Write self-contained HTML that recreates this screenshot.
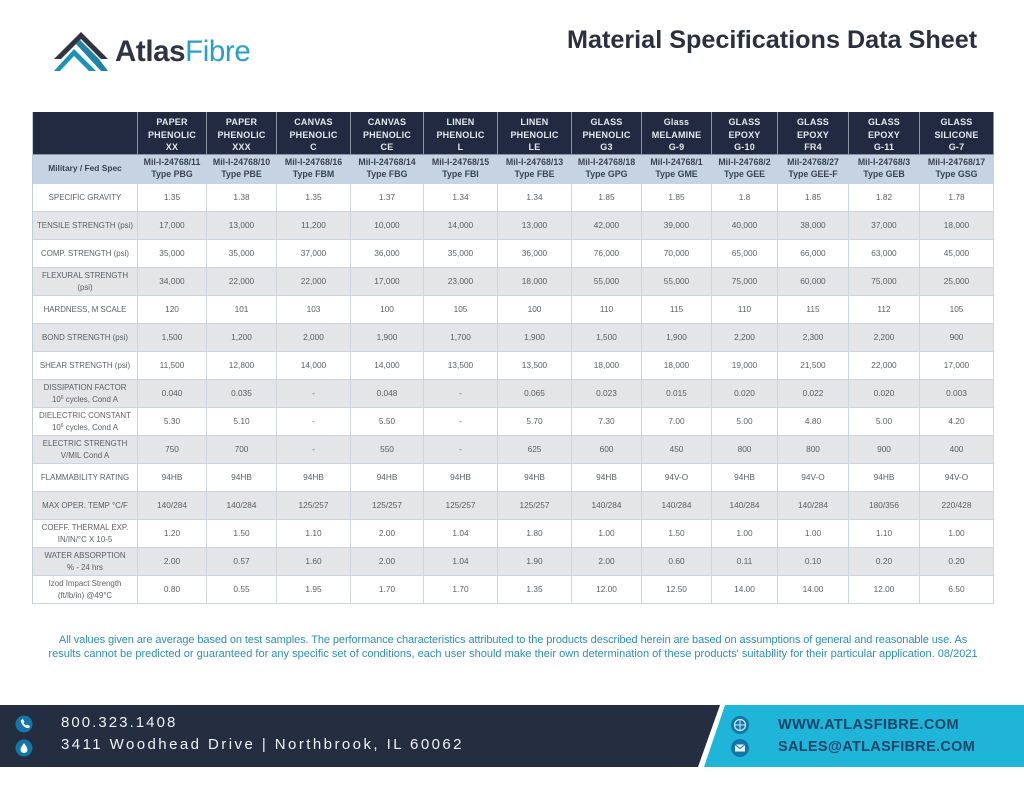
<!DOCTYPE html>
<html lang="en">
<head>
<meta charset="utf-8">
<title>Material Specifications Data Sheet</title>
<style>
html,body{margin:0;padding:0;background:#fff;}
body{width:1024px;height:791px;position:relative;overflow:hidden;font-family:"Liberation Sans",sans-serif;}
.abs{position:absolute;white-space:nowrap;}
table{position:absolute;left:32px;top:112px;width:961px;border-collapse:separate;border-spacing:0;table-layout:fixed;border-left:1px solid #c3cdd9;}
td,th{box-sizing:border-box;padding:0;text-align:center;vertical-align:middle;overflow:hidden;white-space:nowrap;border-right:1.5px solid #ccd5df;border-bottom:1.5px solid #ccd5df;}
tr.head th{height:43px;padding-top:4px;background:#212a40;color:#e4e8ed;font-size:9px;line-height:12.4px;font-weight:bold;letter-spacing:.2px;border-right-color:#8a94a3;border-bottom-color:#8a94a3;}
tr.spec th,tr.spec td{height:29px;background:#c5d3e2;color:#3a4350;font-size:8.8px;line-height:11.6px;font-weight:bold;border-right-color:#c5d3e2;border-bottom-color:#c5d3e2;}
tr.spec th{font-size:8.4px;}
tr.r td,tr.r th{height:28px;background:#fff;color:#5b5f63;font-size:8.3px;line-height:11.1px;font-weight:normal;}
tr.g td,tr.g th{background:#e3e5e6;}
tr.r th{font-size:7.9px;}
sup{font-size:5px;line-height:0;vertical-align:3px;}
</style>
</head>
<body>
<svg class="abs" style="left:53px;top:30px" width="58" height="44" viewBox="0 0 58 44">
<polygon points="28,2 55,29 48,29 28,9 8,29 1,29" fill="#2f3342"/>
<polygon points="23,14 27,10 46,29 55,41 48,41" fill="#1f83a8"/>
<polygon points="21,19 43,41 36,41 21,26 7,41 1,41" fill="#1b93b8"/>
</svg>
<div class="abs" style="left:115px;top:37px;font-size:29.5px;line-height:30px;font-weight:bold;color:#2f3342;letter-spacing:-.4px">Atlas<span style="color:#2a9fc4;font-weight:normal">Fibre</span></div>
<div class="abs" style="left:567px;top:26px;font-size:25.2px;line-height:28px;font-weight:bold;color:#2b3040">Material Specifications Data Sheet</div>

<table>
<colgroup><col style="width:105px"><col style="width:69px"><col style="width:70px"><col style="width:74px"><col style="width:73px"><col style="width:74px"><col style="width:74px"><col style="width:70px"><col style="width:70px"><col style="width:66px"><col style="width:71px"><col style="width:71px"><col style="width:74px"></colgroup>
<tr class="head">
<th></th>
<th>PAPER<br>PHENOLIC<br>XX</th>
<th>PAPER<br>PHENOLIC<br>XXX</th>
<th>CANVAS<br>PHENOLIC<br>C</th>
<th>CANVAS<br>PHENOLIC<br>CE</th>
<th>LINEN<br>PHENOLIC<br>L</th>
<th>LINEN<br>PHENOLIC<br>LE</th>
<th>GLASS<br>PHENOLIC<br>G3</th>
<th>Glass<br>MELAMINE<br>G-9</th>
<th>GLASS<br>EPOXY<br>G-10</th>
<th>GLASS<br>EPOXY<br>FR4</th>
<th>GLASS<br>EPOXY<br>G-11</th>
<th>GLASS<br>SILICONE<br>G-7</th>
</tr>
<tr class="spec">
<th>Military / Fed Spec</th>
<td>Mil-I-24768/11<br>Type PBG</td>
<td>Mil-I-24768/10<br>Type PBE</td>
<td>Mil-I-24768/16<br>Type FBM</td>
<td>Mil-I-24768/14<br>Type FBG</td>
<td>Mil-I-24768/15<br>Type FBI</td>
<td>Mil-I-24768/13<br>Type FBE</td>
<td>Mil-I-24768/18<br>Type GPG</td>
<td>Mil-I-24768/1<br>Type GME</td>
<td>Mil-I-24768/2<br>Type GEE</td>
<td>Mil-24768/27<br>Type GEE-F</td>
<td>Mil-I-24768/3<br>Type GEB</td>
<td>Mil-I-24768/17<br>Type GSG</td>
</tr>
<tr class="r"><th>SPECIFIC GRAVITY</th><td>1.35</td><td>1.38</td><td>1.35</td><td>1.37</td><td>1.34</td><td>1.34</td><td>1.85</td><td>1.85</td><td>1.8</td><td>1.85</td><td>1.82</td><td>1.78</td></tr>
<tr class="r g"><th>TENSILE STRENGTH (psi)</th><td>17,000</td><td>13,000</td><td>11,200</td><td>10,000</td><td>14,000</td><td>13,000</td><td>42,000</td><td>39,000</td><td>40,000</td><td>38,000</td><td>37,000</td><td>18,000</td></tr>
<tr class="r"><th>COMP. STRENGTH (psi)</th><td>35,000</td><td>35,000</td><td>37,000</td><td>36,000</td><td>35,000</td><td>36,000</td><td>76,000</td><td>70,000</td><td>65,000</td><td>66,000</td><td>63,000</td><td>45,000</td></tr>
<tr class="r g"><th>FLEXURAL STRENGTH<br>(psi)</th><td>34,000</td><td>22,000</td><td>22,000</td><td>17,000</td><td>23,000</td><td>18,000</td><td>55,000</td><td>55,000</td><td>75,000</td><td>60,000</td><td>75,000</td><td>25,000</td></tr>
<tr class="r"><th>HARDNESS, M SCALE</th><td>120</td><td>101</td><td>103</td><td>100</td><td>105</td><td>100</td><td>110</td><td>115</td><td>110</td><td>115</td><td>112</td><td>105</td></tr>
<tr class="r g"><th>BOND STRENGTH (psi)</th><td>1,500</td><td>1,200</td><td>2,000</td><td>1,900</td><td>1,700</td><td>1,900</td><td>1,500</td><td>1,900</td><td>2,200</td><td>2,300</td><td>2,200</td><td>900</td></tr>
<tr class="r"><th>SHEAR STRENGTH (psi)</th><td>11,500</td><td>12,800</td><td>14,000</td><td>14,000</td><td>13,500</td><td>13,500</td><td>18,000</td><td>18,000</td><td>19,000</td><td>21,500</td><td>22,000</td><td>17,000</td></tr>
<tr class="r g"><th>DISSIPATION FACTOR<br>10<sup>6</sup> cycles, Cond A</th><td>0.040</td><td>0.035</td><td>-</td><td>0.048</td><td>-</td><td>0.065</td><td>0.023</td><td>0.015</td><td>0.020</td><td>0.022</td><td>0.020</td><td>0.003</td></tr>
<tr class="r"><th>DIELECTRIC CONSTANT<br>10<sup>6</sup> cycles, Cond A</th><td>5.30</td><td>5.10</td><td>-</td><td>5.50</td><td>-</td><td>5.70</td><td>7.30</td><td>7.00</td><td>5.00</td><td>4.80</td><td>5.00</td><td>4.20</td></tr>
<tr class="r g"><th>ELECTRIC STRENGTH<br>V/MIL Cond A</th><td>750</td><td>700</td><td>-</td><td>550</td><td>-</td><td>625</td><td>600</td><td>450</td><td>800</td><td>800</td><td>900</td><td>400</td></tr>
<tr class="r"><th>FLAMMABILITY RATING</th><td>94HB</td><td>94HB</td><td>94HB</td><td>94HB</td><td>94HB</td><td>94HB</td><td>94HB</td><td>94V-O</td><td>94HB</td><td>94V-O</td><td>94HB</td><td>94V-O</td></tr>
<tr class="r g"><th>MAX OPER. TEMP °C/F</th><td>140/284</td><td>140/284</td><td>125/257</td><td>125/257</td><td>125/257</td><td>125/257</td><td>140/284</td><td>140/284</td><td>140/284</td><td>140/284</td><td>180/356</td><td>220/428</td></tr>
<tr class="r"><th>COEFF. THERMAL EXP.<br>IN/IN/°C X 10-5</th><td>1.20</td><td>1.50</td><td>1.10</td><td>2.00</td><td>1.04</td><td>1.80</td><td>1.00</td><td>1.50</td><td>1.00</td><td>1.00</td><td>1.10</td><td>1.00</td></tr>
<tr class="r g"><th>WATER ABSORPTION<br>% - 24 hrs</th><td>2.00</td><td>0.57</td><td>1.60</td><td>2.00</td><td>1.04</td><td>1.90</td><td>2.00</td><td>0.60</td><td>0.11</td><td>0.10</td><td>0.20</td><td>0.20</td></tr>
<tr class="r"><th>Izod Impact Strength<br>(ft/lb/in) @49°C</th><td>0.80</td><td>0.55</td><td>1.95</td><td>1.70</td><td>1.70</td><td>1.35</td><td>12.00</td><td>12.50</td><td>14.00</td><td>14.00</td><td>12.00</td><td>6.50</td></tr>
</table>

<div class="abs" style="left:0;width:1024px;top:633px;text-align:center;font-size:11.03px;line-height:14px;color:#2c8fb4;padding-left:1px"><span style="letter-spacing:-.1px">All values given are average based on test samples. The performance characteristics attributed to the products described herein are based on assumptions of general and reasonable use. As</span><br>results cannot be predicted or guaranteed for any specific set of conditions, each user should make their own determination of these products' suitability for their particular application. 08/2021</div>

<svg class="abs" style="left:0;top:705px" width="1024" height="62" viewBox="0 0 1024 62">
<polygon points="0,0 720,0 698,62 0,62" fill="#252d41"/>
<polygon points="725,0 1024,0 1024,62 704,62" fill="#1fb5d8"/>
<circle cx="24" cy="19" r="8.5" fill="#1277a8"/>
<path d="M21 15 l2 -1 1.5 3 -1 1 a6 6 0 0 0 2.5 2.5 l1 -1 3 1.5 -1 2 c-4 1 -9 -5 -8 -8z" fill="#fff"/>
<circle cx="24" cy="43" r="8.5" fill="#1277a8"/>
<path d="M24 38 c2 3 3.500 4.500 3.500 6.500 a3.500 3.500 0 0 1 -7 0 c0 -2 1.500 -3.500 3.500 -6.500z" fill="#fff"/>
<circle cx="740" cy="20" r="9" fill="#1277a8"/>
<circle cx="740" cy="20" r="5.500" fill="none" stroke="#cfeaf5" stroke-width="1.200"/>
<path d="M734.500 20 h11 M740 14.500 v11" stroke="#cfeaf5" stroke-width="1"/>
<circle cx="740" cy="43" r="9" fill="#1277a8"/>
<rect x="735" y="39.500" width="10" height="7" fill="#e6f5fa"/>
<path d="M735 39.500 l5 4 5 -4" fill="none" stroke="#1277a8" stroke-width="1"/>
</svg>
<div class="abs" style="left:61px;top:714px;font-size:15px;line-height:18px;color:#f0f2f5;letter-spacing:2.05px">800.323.1408</div>
<div class="abs" style="left:61px;top:736px;font-size:15px;line-height:18px;color:#f0f2f5;letter-spacing:2.44px">3411 Woodhead Drive | Northbrook, IL 60062</div>
<div class="abs" style="left:778px;top:716px;font-size:14.5px;line-height:18px;font-weight:bold;color:#17456a;letter-spacing:.45px">WWW.ATLASFIBRE.COM</div>
<div class="abs" style="left:778px;top:738px;font-size:14.5px;line-height:18px;font-weight:bold;color:#17456a;letter-spacing:.3px">SALES@ATLASFIBRE.COM</div>
</body>
</html>
